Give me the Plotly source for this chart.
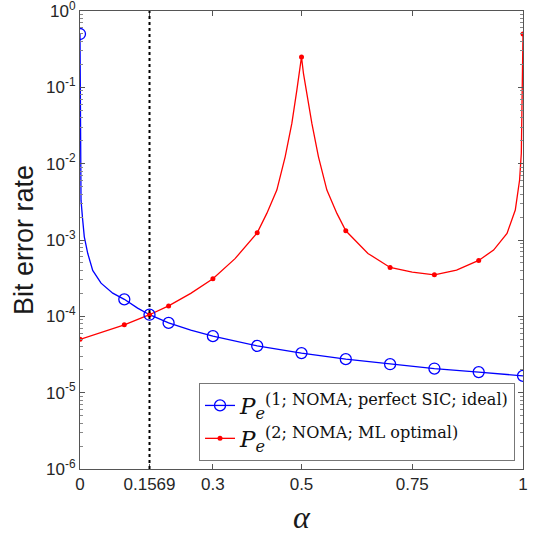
import plotly.graph_objects as go

# ---- data ----
blue_alpha = [0, 0.0007, 0.0023, 0.0061, 0.0097, 0.0174, 0.0287, 0.0475, 0.0739,
              0.1, 0.13, 0.1569, 0.2, 0.25, 0.3, 0.4, 0.5, 0.6, 0.7, 0.8, 0.9, 1.0]
blue_ber = [0.5, 0.02, 3.3e-3, 1.82e-3, 1.10e-3, 6.7e-4, 4.0e-4, 2.72e-4, 2.01e-4,
            1.67e-4, 1.28e-4, 1.05e-4, 8.2e-5, 6.6e-5, 5.5e-5, 4.1e-5, 3.3e-5, 2.75e-5,
            2.36e-5, 2.07e-5, 1.86e-5, 1.66e-5]

red_alpha = [0, 0.05, 0.1, 0.1569, 0.2, 0.25, 0.3, 0.35, 0.4, 0.4217, 0.4443, 0.4631,
             0.4782, 0.4895, 0.4954, 0.5, 0.5044, 0.5105, 0.5234, 0.5383, 0.5573, 0.5799,
             0.6, 0.65, 0.7, 0.75, 0.8, 0.85, 0.9, 0.9336, 0.9639, 0.9826, 0.9923,
             0.9962, 0.9977, 0.9985, 1.0]
red_ber = [5.0e-5, 6.2e-5, 7.74e-5, 1.05e-4, 1.37e-4, 2.0e-4, 3.1e-4, 5.7e-4, 1.24e-3,
           2.23e-3, 4.51e-3, 1.23e-2, 3.37e-2, 9.22e-2, 0.1526, 0.25, 0.1526, 9.22e-2,
           3.37e-2, 1.23e-2, 4.51e-3, 2.23e-3, 1.32e-3, 6.67e-4, 4.37e-4, 3.8e-4,
           3.5e-4, 4.03e-4, 5.4e-4, 7.38e-4, 1.22e-3, 2.47e-3, 6.1e-3, 1.37e-2,
           3.73e-2, 0.169, 0.5]

marker_alpha = [0, 0.1, 0.1569, 0.2, 0.3, 0.4, 0.5, 0.6, 0.7, 0.8, 0.9, 1.0]
alpha_opt = 0.1569

x_tickvals = [0, 0.1569, 0.3, 0.5, 0.75, 1]
x_ticktext = ["0", "0.1569", "0.3", "0.5", "0.75", "1"]
y_exponents = [-6, -5, -4, -3, -2, -1, 0]

legend_1 = "<i>P</i><sub><i>e</i></sub><sup>(1; NOMA; perfect SIC; ideal)</sup>"
legend_2 = "<i>P</i><sub><i>e</i></sub><sup>(2; NOMA; ML optimal)</sup>"

BLUE = "#0000ff"
RED = "#ff0000"


def pick(xs, ys, keep):
    px, py = [], []
    for a, b in zip(xs, ys):
        if any(abs(a - k) < 1e-9 for k in keep):
            px.append(a)
            py.append(b)
    return px, py


fig = go.Figure()

# dense curves
fig.add_trace(go.Scatter(x=blue_alpha, y=blue_ber, mode="lines",
                         line=dict(color=BLUE, width=1.3), showlegend=False, hoverinfo="skip"))
fig.add_trace(go.Scatter(x=red_alpha, y=red_ber, mode="lines",
                         line=dict(color=RED, width=1.3), showlegend=False, hoverinfo="skip"))

# markers
bx, by = pick(blue_alpha, blue_ber, marker_alpha)
rx, ry = pick(red_alpha, red_ber, marker_alpha)
fig.add_trace(go.Scatter(x=bx, y=by, mode="markers", showlegend=False,
                         marker=dict(symbol="circle-open", size=11, color=BLUE,
                                     line=dict(width=1.3, color=BLUE))))
fig.add_trace(go.Scatter(x=rx, y=ry, mode="markers", showlegend=False,
                         marker=dict(symbol="circle", size=5, color=RED)))

# legend entries
fig.add_trace(go.Scatter(x=[None], y=[None], mode="lines+markers", name=legend_1,
                         line=dict(color=BLUE, width=1.3),
                         marker=dict(symbol="circle-open", size=11, color=BLUE,
                                     line=dict(width=1.3, color=BLUE))))
fig.add_trace(go.Scatter(x=[None], y=[None], mode="lines+markers", name=legend_2,
                         line=dict(color=RED, width=1.3),
                         marker=dict(symbol="circle", size=5, color=RED)))

# vertical dotted line at alpha_opt
fig.add_shape(type="line", xref="x", yref="paper", x0=alpha_opt, x1=alpha_opt, y0=0, y1=1,
              line=dict(color="black", width=2, dash="dot"))

tick_font = dict(family="Liberation Sans, Arial, sans-serif", size=17, color="#262626")
axis_col = "#555555"

fig.update_xaxes(range=[0, 1], tickmode="array", tickvals=x_tickvals, ticktext=x_ticktext,
                 ticks="inside", ticklen=5, tickcolor=axis_col, showline=True,
                 linecolor=axis_col, linewidth=1, mirror="ticks", showgrid=False,
                 zeroline=False, tickfont=tick_font, automargin=False,
                 ticklabeloverflow="allow")

fig.update_yaxes(type="log", range=[-6, 0], tickmode="array",
                 tickvals=[10.0 ** e for e in y_exponents],
                 ticktext=["10<sup>%d</sup>" % e for e in y_exponents],
                 ticks="inside", ticklen=5, tickcolor=axis_col, showline=True,
                 linecolor=axis_col, linewidth=1, mirror="ticks", showgrid=False,
                 zeroline=False, tickfont=tick_font, automargin=False,
                 ticklabeloverflow="allow",
                 minor=dict(tickmode="array",
                            tickvals=[k * 10.0 ** e for e in range(-6, 0) for k in range(2, 10)],
                            ticks="inside", ticklen=3, tickcolor="#888888", showgrid=False))

fig.add_annotation(text="Bit error rate", xref="paper", yref="paper", x=-0.1265, y=0.5,
                   xanchor="center", yanchor="middle", textangle=-90, showarrow=False,
                   font=dict(family="Liberation Sans, Arial, sans-serif", size=27, color="#1a1a1a"))
fig.add_annotation(text="<i>α</i>", xref="paper", yref="paper", x=0.5, y=-0.105,
                   xanchor="center", yanchor="middle", showarrow=False,
                   font=dict(family="Liberation Serif, Times New Roman, serif", size=32, color="#1a1a1a"))

fig.update_layout(
    width=536, height=541,
    margin=dict(l=80, r=13, t=11, b=72, autoexpand=False),
    paper_bgcolor="white", plot_bgcolor="white",
    legend=dict(x=0.982, y=0.0175, xanchor="right", yanchor="bottom",
                bgcolor="white", bordercolor="#777777", borderwidth=1,
                font=dict(family="DejaVu Serif", size=23, color="#111111"),
                itemwidth=30, tracegroupgap=0),
)

fig.write_html("out.html", config={"displayModeBar": False},
               post_script="document.body.style.margin='0';document.body.style.overflow='hidden';")
